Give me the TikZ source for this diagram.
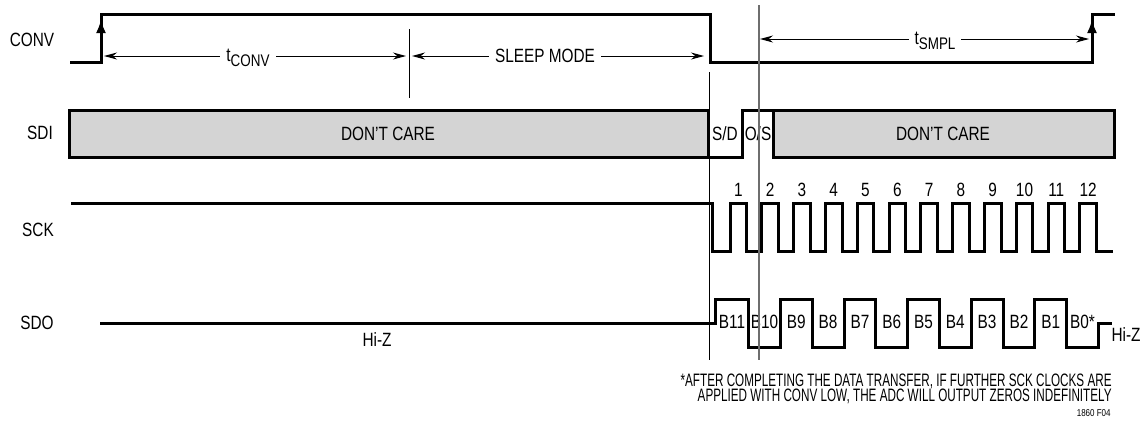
\documentclass[tikz,border=0pt]{standalone}
\usepackage{fontspec}
\setmainfont{Liberation Sans}[FakeStretch=0.8]
\newfontfamily\notefont{Liberation Sans}[FakeStretch=0.65]
\usetikzlibrary{arrows.meta}
\definecolor{dcgray}{RGB}{212,212,212}
\definecolor{markgray}{RGB}{110,110,110}
\begin{document}
\begin{tikzpicture}[x=0.5pt,y=-0.5pt,line join=miter,
    every node/.style={font=\fontsize{9.6}{10}\selectfont,inner sep=1pt},
    wave/.style={line width=1.5pt},
    dimarrow/.style={line width=0.5pt,{Stealth[length=6.5pt,width=3.5pt]}-{Stealth[length=6.5pt,width=3.5pt]}},
    edge/.style={line width=1.5pt,-{Latex[length=7pt,width=5pt]}}]
    \useasboundingbox (0,0) rectangle (1144,441);
    % Signal names
    \node (conv) at (32,40) {CONV};
    \node (sdi) at (40,133) {SDI};
    \node (sck) at (38,230) {SCK};
    \node (sdo) at (37,323) {SDO};
    % CONV
    \draw[wave] (70,62) -- (101,62) -- (101,14) -- (710,14) -- (710,62) -- (1092,62) -- (1092,14) -- (1115,14);
    \draw[edge] (101,50) -- (101,19);
    \draw[edge] (1092,50) -- (1092,19);
    % Timing arrows
    \coordinate (cstart) at (104,56);
    \coordinate (cend) at (406,56);
    \coordinate (sstart) at (412,56);
    \coordinate (send) at (704,56);
    \coordinate (pstart) at (760,39);
    \coordinate (pend) at (1089,39);
    \draw[dimarrow] (cstart) -- (cend);
    \draw[dimarrow] (sstart) -- (send);
    \draw[dimarrow] (pstart) -- (pend);
    \node[fill=white,inner sep=3pt] (tconv) at (248,58) {t\raisebox{-2.3pt}{\fontsize{8.4}{8}\selectfont CONV}};
    \node[fill=white,inner sep=3pt] (sleep) at (545,56) {SLEEP MODE};
    \node[fill=white,inner sep=3pt] (tsmpl) at (935,41) {t\raisebox{-2.3pt}{\fontsize{8.4}{8}\selectfont SMPL}};
    % SDI
    \draw[wave,fill=dcgray] (69,110) rectangle (708,157);
    \draw[wave] (708,157) -- (742,157) -- (742,110) -- (773,110);
    \draw[wave,fill=dcgray] (773,110) rectangle (1114,157);
    \node (dc1) at (388,134) {DON’T CARE};
    \node (dc2) at (943,134) {DON’T CARE};
    \node (sd) at (725,134) {S/D};
    \node (os) at (758,134) {O/S};
    % SCK
    \draw[wave] (71,203) -- (712,203) -- (712,251)
        foreach \k in {0,...,11} { -- ({730+31.8*\k},251) -- ({730+31.8*\k},203)
        -- ({746.6+31.8*\k},203) -- ({746.6+31.8*\k},251) } -- (1113,251);
    \foreach \k in {1,...,12}
        \node (n\k) at ({738.3+31.8*(\k-1)},190) {\k};
    % SDO
    \draw[wave] (100,323) -- (715,323) -- (715,299)
        foreach \k in {0,2,4,6,8} { -- ({748.6+31.8*\k},299) -- ({748.6+31.8*\k},347)
        -- ({780.4+31.8*\k},347) -- ({780.4+31.8*\k},299) }
        -- (1066.6,299) -- (1066.6,347) -- (1098.4,347) -- (1098.4,323) -- (1112,323);
    \node (b11) at (732,322) {B11};
    \foreach \b [count=\j] in {B10,B9,B8,B7,B6,B5,B4,B3,B2,B1,B0*}
        \node (bit\j) at ({748.6+31.8*(\j-0.5)},322) {\b};
    \node (hiz1) at (377,340) {Hi-Z};
    \node (hiz2) at (1126,335) {Hi-Z};
    % Markers
    \draw[line width=0.5pt] (409,29) -- (409,98);
    \draw[line width=0.5pt] (709,72) -- (709,360);
    \draw[markgray,line width=0.6pt] (759,5) -- (759,360);
    % Note
    \node[anchor=east,align=right,font=\notefont\fontsize{9}{7.5}\selectfont] (note) at (1114,389)
        {*AFTER COMPLETING THE DATA TRANSFER, IF FURTHER SCK CLOCKS ARE\\APPLIED WITH CONV LOW, THE ADC WILL OUTPUT ZEROS INDEFINITELY};
    \node[anchor=east,font=\fontsize{5}{6}\selectfont] (figno) at (1113,413) {1860 F04};
\end{tikzpicture}
\end{document}
